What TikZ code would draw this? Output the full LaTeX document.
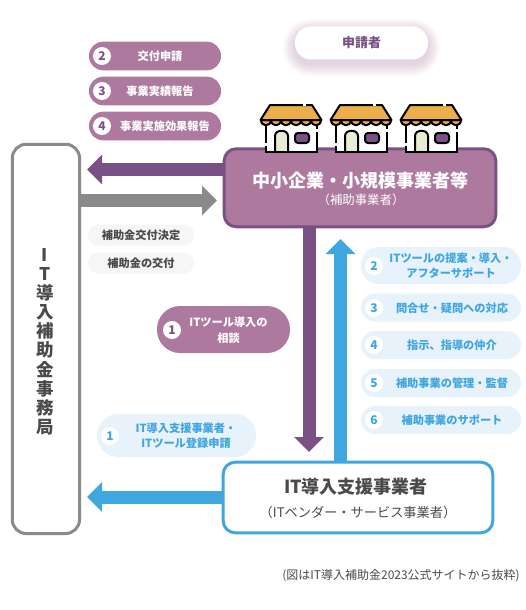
\documentclass[tikz,border=0pt]{standalone}
\usepackage{fontspec}
\setmainfont{Noto Sans CJK JP}
\usetikzlibrary{arrows.meta,calc}
\definecolor{purpA}{HTML}{AD799F}
\definecolor{purpB}{HTML}{7A5185}
\definecolor{blueA}{HTML}{3FA6E0}
\definecolor{blueB}{HTML}{E8F2FA}
\definecolor{grayA}{HTML}{8A8A8A}
\definecolor{grayB}{HTML}{F6F6F6}
\definecolor{txtD}{HTML}{4A4A4A}
\definecolor{roofC}{HTML}{EBAE4A}
\definecolor{doorC}{HTML}{E8ECD5}
\tikzset{
  pill/.style={rounded corners=#1,inner sep=0pt,align=center},
  ppill/.style={draw=none,fill=purpA,text=white},
  bpill/.style={fill=blueB,text=blueA},
  gpill/.style={fill=grayB,text=txtD,font=\fontsize{11.2}{14}\selectfont\bfseries},
  lbl/.style={inner sep=0pt,align=center,font=\fontsize{11.2}{15.5}\selectfont\bfseries},
  numc/.style={circle,fill=white,minimum size=#1,inner sep=0pt,font=\fontsize{12}{12}\selectfont\bfseries},
  blockarrow/.style={line width=13pt,-{Triangle[length=15pt,width=29pt]},#1},
  vchar/.style={font=\fontsize{17.5}{17.5}\selectfont\bfseries,text=txtD,inner sep=0pt},
  house/.pic={
    \fill[white] (-26,0) rectangle (26,32);
    \draw[fill=doorC,line width=2pt,line join=round] (-16,32) -- (-16,16) .. controls (-16,9) and (-3,9) .. (-3,16) -- (-3,32);
    \draw[fill=purpB,line width=2pt,rounded corners=3pt] (4,13) rectangle (18,23);
    \draw[line width=2pt] (-25.5,4) -- (-25.5,32) -- (25.5,32) -- (25.5,4);
    \draw[white,line width=2.6pt] (-25.5,23) -- (-25.5,26);
    \draw[white,line width=2.6pt] (25.5,9) -- (25.5,12);
    \draw[fill=roofC,line width=2pt,line join=round] (-30,0) .. controls (-30,7) and (-20.3,7) .. (-20,0)
       .. controls (-20,7) and (-10.3,7) .. (-10,0)
       .. controls (-10,7) and (-0.2,7) .. (0,0)
       .. controls (0.2,7) and (10,7) .. (10,0)
       .. controls (10.3,7) and (20,7) .. (20,0)
       .. controls (20.3,7) and (30,7) .. (30,0) -- cycle;
    \draw[fill=roofC,line width=2pt,line join=round] (-21,-15) -- (21,-15) -- (30.5,0) -- (-30.5,0) -- cycle;
    \draw[white,line width=2.6pt] (12,-15) -- (15,-15);
  }
}
\begin{document}
\begin{tikzpicture}[x=1pt,y=-1pt]
\useasboundingbox (0,0) rectangle (526,610);
% main boxes
\node[draw=grayA,line width=3pt,rounded corners=14pt,minimum width=67.3pt,minimum height=389.3pt,inner sep=0pt] (office) at (45.9,338.9) {};
\coordinate (t1) at (87,169.5);
\coordinate (t2) at (217,200.5);
\coordinate (t3) at (309,452);
\coordinate (t4) at (340.5,239);
\coordinate (t5) at (87,497);
\node[fill=purpA,draw=purpB,line width=3pt,rounded corners=12pt,minimum width=271.6pt,minimum height=78pt,inner sep=0pt] (sme) at (360,187.8) {};
\node[fill=white,draw=blueA,line width=3pt,rounded corners=12pt,minimum width=269.6pt,minimum height=70.6pt,inner sep=0pt] (vendor) at (358,497.5) {};
% arrows
\draw[blockarrow=purpB] (sme.west |- t1) -- (t1);
\draw[blockarrow=grayA] (office.east |- t2) -- (t2);
\draw[blockarrow=purpB] (t3 |- sme.south) -- (t3);
\draw[blockarrow=blueA] (t4 |- vendor.north) -- (t4);
\draw[blockarrow=blueA] (vendor.west |- t5) -- (t5);
% houses
\pic at (291,120) {house};
\pic at (361,120) {house};
\pic at (431,120) {house};
% titles
\node[text=white,font=\fontsize{18}{18}\selectfont\bfseries,inner sep=0pt] (smeT) at (360.5,181) {中小企業・小規模事業者等};
\node[text=white,font=\fontsize{12.4}{13}\selectfont,inner sep=0pt] (smeS) at (361,200) {（補助事業者）};
\node[text=txtD,font=\fontsize{18}{18}\selectfont\bfseries,inner sep=0pt] (venT) at (356,487) {IT導入支援事業者};
\node[text=txtD,font=\fontsize{13.2}{14}\selectfont,inner sep=0pt] (venS) at (358,512) {（ITベンダー・サービス事業者）};
% vertical
\node[vchar] (v1) at (45,255) {I};
\node[vchar] (v2) at (45,274) {T};
\node[vchar] (v3) at (45,292.5) {導};
\node[vchar] (v4) at (45,312) {入};
\node[vchar] (v5) at (45,331) {補};
\node[vchar] (v6) at (45,350) {助};
\node[vchar] (v7) at (45,369.5) {金};
\node[vchar] (v8) at (45,388.5) {事};
\node[vchar] (v9) at (45,408) {務};
\node[vchar] (v10) at (45,427) {局};
% applicant
\foreach \g in {12,11,...,1}
  \fill[purpA,opacity=0.03,rounded corners=16pt+\g pt] (295-\g,26-\g+5) rectangle (428+\g,59+\g+5);
\node[pill=16pt,fill=white,minimum width=133pt,minimum height=33pt,text=purpB,font=\fontsize{13}{13}\selectfont\bfseries] (appl) at (361.5,43) {申請者};
% purple pills
\node[pill=14pt,ppill,minimum width=132pt,minimum height=28.6pt] (p2) at (155,56) {};
\node[numc=18pt,text=purpB] (n2) at (102,56) {2};
\node[lbl,text=white] at (160,56) (p2t) {交付申請};
\node[pill=14pt,ppill,minimum width=132pt,minimum height=28.6pt] (p3) at (155,91) {};
\node[numc=18pt,text=purpB] (n3) at (102,91) {3};
\node[lbl,text=white] at (160,91) (p3t) {事業実績報告};
\node[pill=14pt,ppill,minimum width=132pt,minimum height=28.6pt] (p4) at (155,126) {};
\node[numc=18pt,text=purpB] (n4) at (102,126) {4};
\node[lbl,text=white] at (165,126) (p4t) {事業実施効果報告};
% gray pills
\node[pill=10pt,gpill,minimum width=106pt,minimum height=21pt] (g1) at (141,235) {補助金交付決定};
\node[pill=10pt,gpill,minimum width=106pt,minimum height=21pt] (g2) at (141,263) {補助金の交付};
% consultation
\node[pill=23pt,ppill,minimum width=133pt,minimum height=47pt] (c1) at (223.5,329.5) {};
\node[numc=18pt,text=purpB] (cn) at (172,330) {1};
\node[lbl,text=white] (ct) at (228.5,330) {ITツール導入の\\相談};
% blue left pill
\node[pill=21pt,bpill,minimum width=159pt,minimum height=43pt] (b1) at (176.5,435.5) {};
\node[numc=18pt,text=blueA] (bn1) at (110,436) {1};
\node[lbl,text=blueA] (bt1) at (186,435.5) {IT導入支援事業者・\\ITツール登録申請};
% blue right pills
\node[pill=18pt,bpill,minimum width=160pt,minimum height=37pt] (r2) at (441,265.5) {};
\node[numc=18pt,text=blueA] (rn2) at (374,266) {2};
\node[lbl,text=blueA] (rt2) at (451,265.5) {ITツールの提案・導入・\\アフターサポート};
\node[pill=14pt,bpill,minimum width=160pt,minimum height=28pt] (r3) at (441,307.5) {};
\node[numc=18pt,text=blueA] (rn3) at (374,308) {3};
\node[lbl,text=blueA] (rt3) at (452,308) {問合せ・疑問への対応};
\node[pill=14pt,bpill,minimum width=160pt,minimum height=28pt] (r4) at (441,345) {};
\node[numc=18pt,text=blueA] (rn4) at (374,345) {4};
\node[lbl,text=blueA] (rt4) at (452,345.5) {指示、指導の仲介};
\node[pill=14pt,bpill,minimum width=160pt,minimum height=28pt] (r5) at (441,383) {};
\node[numc=18pt,text=blueA] (rn5) at (374,383) {5};
\node[lbl,text=blueA] (rt5) at (452,383) {補助事業の管理・監督};
\node[pill=14pt,bpill,minimum width=160pt,minimum height=28pt] (r6) at (441,420) {};
\node[numc=18pt,text=blueA] (rn6) at (374,420) {6};
\node[lbl,text=blueA] (rt6) at (452,420) {補助事業のサポート};
% caption
\node[anchor=east,text=txtD,font=\fontsize{12}{12}\selectfont,inner sep=0pt] (cap) at (520,575.5) {(図はIT導入補助金2023公式サイトから抜粋)};
\end{tikzpicture}
\end{document}
